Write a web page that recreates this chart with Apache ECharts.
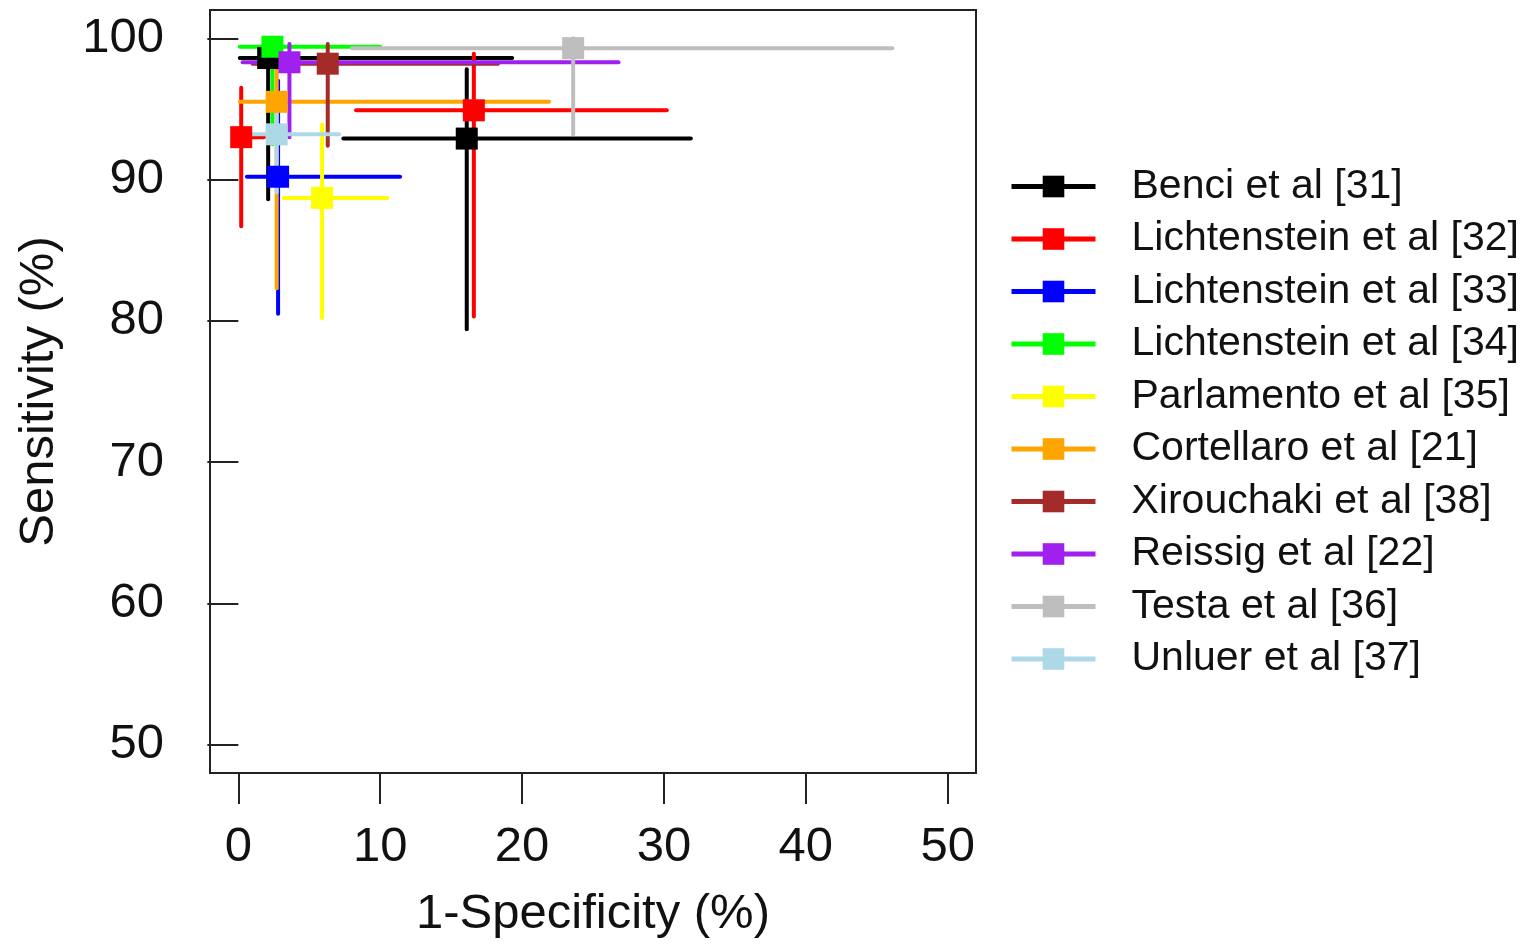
<!DOCTYPE html>
<html>
<head>
<meta charset="utf-8">
<script src="https://cdn.jsdelivr.net/npm/echarts@6/dist/echarts.min.js"></script>
<style>
html,body{margin:0;padding:0;background:#fff;}
#chart{width:1523px;height:944px;}
</style>
</head>
<body>
<div id="chart"></div>
<script>
// Studies (legend order) and their colours
const studies = ['Benci et al [31]','Lichtenstein et al [32]','Lichtenstein et al [33]','Lichtenstein et al [34]','Parlamento et al [35]','Cortellaro et al [21]','Xirouchaki et al [38]','Reissig et al [22]','Testa et al [36]','Unluer et al [37]'];
const colors = ['#000000','#FF0000','#0000FF','#00FF00','#FFFF00','#FFA500','#A52A2A','#A020F0','#BEBEBE','#ADD8E6'];

// One entry per plotted estimate
const pointStudy = [0, 0, 1, 1, 2, 3, 4, 5, 6, 7, 8, 9];
const fpr      = [16.1, 2.1, 0.2, 16.6, 2.8, 2.4, 5.9, 2.7, 6.3, 3.6, 23.6, 2.7];
const fprLo    = [7.4, 0.1, 0.0, 8.3, 0.6, 0.1, 3.2, 0.1, 1.0, 0.3, 8.0, 0.8];
const fprHi    = [31.9, 19.3, 1.8, 30.2, 11.4, 10.0, 10.5, 21.9, 18.3, 26.8, 46.1, 7.1];
const sens     = [92.9, 98.6, 93.0, 94.9, 90.2, 99.4, 88.7, 95.5, 98.2, 98.3, 99.3, 93.2];
const sensLo   = [79.4, 88.6, 86.7, 80.3, 80.5, 92.5, 80.2, 82.3, 92.4, 93.0, 93.2, 89.1];
const sensHi   = [97.8, 99.9, 96.5, 98.9, 97.0, 100.0, 93.9, 99.2, 99.6, 99.6, 100.0, 95.9];

const xTicks = [0, 10, 20, 30, 40, 50];
const yTicks = [50, 60, 70, 80, 90, 100];

const FONT = '"Liberation Sans", Arial, sans-serif';

const series = [];
studies.forEach(function (name, s) {
  const idx = [];
  pointStudy.forEach(function (p, i) { if (p === s) idx.push(i); });
  series.push({
    type: 'line',
    name: name,
    z: 5,
    symbol: 'rect',
    symbolSize: 22,
    showSymbol: true,
    color: colors[s],
    itemStyle: { color: colors[s] },
    lineStyle: { width: 4, color: colors[s], opacity: 0 },
    emphasis: { disabled: true },
    data: idx.map(function (i) { return [fpr[i], sens[i]]; })
  });
});
studies.forEach(function (name, s) {
  const idx = [];
  pointStudy.forEach(function (p, i) { if (p === s) idx.push(i); });
  series.push({
    type: 'custom',
    name: name,
    z: 3,
    color: colors[s],
    encode: { x: [0, 1, 2], y: [3, 4, 5] },
    renderItem: function (params, api) {
      const x = api.value(0), xl = api.value(1), xh = api.value(2);
      const y = api.value(3), yl = api.value(4), yh = api.value(5);
      const a = api.coord([xl, y]), b = api.coord([xh, y]);
      const c = api.coord([x, yl]), d = api.coord([x, yh]);
      const st = { stroke: colors[s], lineWidth: 4, lineCap: 'round' };
      return {
        type: 'group',
        children: [
          { type: 'line', shape: { x1: a[0], y1: a[1], x2: b[0], y2: b[1] }, style: st },
          { type: 'line', shape: { x1: c[0], y1: c[1], x2: d[0], y2: d[1] }, style: st }
        ]
      };
    },
    data: idx.map(function (i) { return [fpr[i], fprLo[i], fprHi[i], sens[i], sensLo[i], sensHi[i]]; })
  });
});

const chart = echarts.init(document.getElementById('chart'), null, { renderer: 'canvas' });
chart.setOption({
  animation: false,
  backgroundColor: '#ffffff',
  textStyle: { fontFamily: FONT },
  grid: {
    left: 210, top: 10, right: 547, bottom: 166,
    show: true, borderColor: '#222', borderWidth: 2, backgroundColor: 'transparent'
  },
  xAxis: {
    type: 'value', min: -2, max: 52,
    name: '1-Specificity (%)', nameLocation: 'middle', nameGap: 117,
    nameTextStyle: { fontSize: 49, color: '#111', fontFamily: FONT },
    axisLine: { show: false },
    splitLine: { show: false },
    axisTick: { show: true, inside: false, length: 31, customValues: xTicks, lineStyle: { color: '#222', width: 2 } },
    axisLabel: { customValues: xTicks, fontSize: 49, color: '#111', margin: 50, fontFamily: FONT }
  },
  yAxis: {
    type: 'value', min: 48, max: 102,
    name: 'Sensitivity (%)', nameLocation: 'middle', nameGap: 146, nameRotate: 90,
    nameTextStyle: { fontSize: 49, color: '#111', fontFamily: FONT },
    axisLine: { show: false },
    splitLine: { show: false },
    axisTick: { show: true, inside: false, length: 31, customValues: yTicks, lineStyle: { color: '#222', width: 2 } },
    axisLabel: { customValues: yTicks, fontSize: 49, color: '#111', margin: 46, fontFamily: FONT }
  },
  legend: {
    orient: 'vertical',
    left: 1004, top: 161,
    itemWidth: 84, itemHeight: 27, itemGap: 11.5,
    data: studies,
    lineStyle: { width: 5, opacity: 1 },
    textStyle: { fontSize: 41, lineHeight: 41, color: '#111', fontFamily: FONT, padding: [0, 0, 0, 31] },
    selectedMode: false
  },
  series: series
});
</script>
</body>
</html>
